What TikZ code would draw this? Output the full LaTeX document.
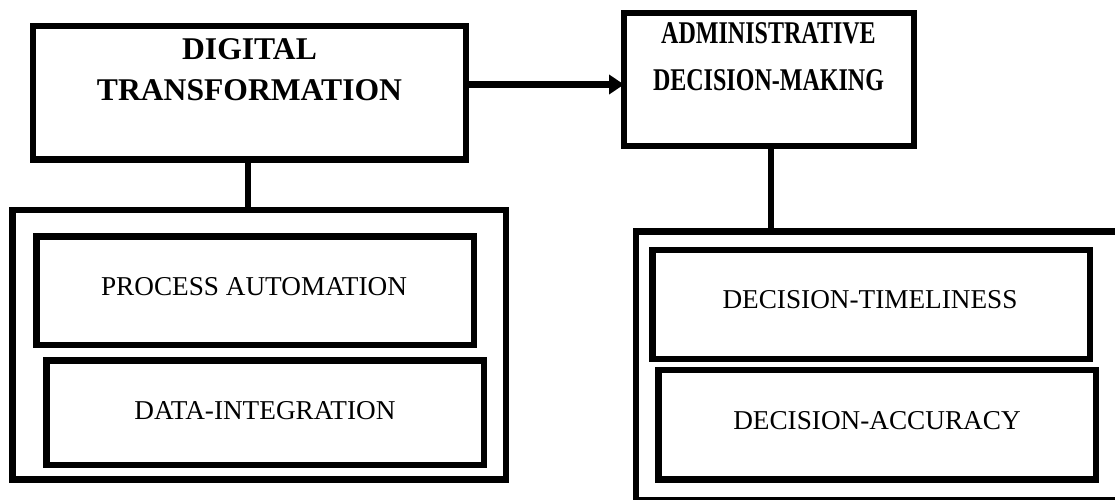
\documentclass[tikz,border=0pt]{standalone}
\usepackage{fontspec}
\setmainfont{Liberation Serif}
\usetikzlibrary{arrows.meta}
\tikzstyle{box}=[draw, rectangle, outer sep=0pt, inner sep=0pt]
\tikzstyle{headtext}=[align=center, inner sep=0pt, font=\bfseries]
\tikzstyle{itemtext}=[inner sep=0pt, font=\fontsize{15.5}{18}\selectfont]
\newcommand{\narrow}[1]{\scalebox{0.76}[1]{#1}}

\begin{document}
\begin{tikzpicture}[x=0.02cm, y=-0.02cm, line width=3.6pt]
            \useasboundingbox (0, 0) rectangle (1115, 500);
            \clip (0, 0) rectangle (1115, 500);

            % top row
            \node[box, minimum width=8.66cm, minimum height=2.67cm] (dt) at (249.5, 92.75) {};
            \node[headtext, font=\bfseries\fontsize{18}{23.2}\selectfont] (dtlabel) at (249.5, 69.5)
                {DIGITAL\\TRANSFORMATION};
            \node[box, minimum width=5.8cm, minimum height=2.66cm] (adm) at (769, 79.5) {};
            \node[headtext, font=\bfseries\fontsize{18}{26.6}\selectfont] (admlabel) at (768.5, 56.5)
                {\narrow{ADMINISTRATIVE}\\\narrow{DECISION-MAKING}};

            % left group
            \node[box, minimum width=9.87cm, minimum height=5.39cm] (dtgroup) at (259.25, 344.75) {};
            \node[box, minimum width=8.75cm, minimum height=2.17cm] (procauto) at (255.25, 290.75) {};
            \node[itemtext] (proclabel) at (254, 287) {PROCESS AUTOMATION};
            \node[box, minimum width=8.75cm, minimum height=2.09cm] (dataint) at (265.25, 412.75) {};
            \node[itemtext] (datalabel) at (265, 411) {DATA-INTEGRATION};

            % right group, runs past the page edge
            \node[box, anchor=north west, minimum width=9.88cm, minimum height=5.37cm] (admgroup) at (636, 231.5) {};
            \node[box, minimum width=8.75cm, minimum height=2.18cm] (timely) at (871.25, 304.5) {};
            \node[itemtext] (timelabel) at (870, 300) {DECISION-TIMELINESS};
            \node[box, minimum width=8.75cm, minimum height=2.19cm] (accuracy) at (877.25, 424.75) {};
            \node[itemtext] (acclabel) at (877, 421) {DECISION-ACCURACY};

            % connectors
            \coordinate (arrowrow) at (0, 84.5);
            \coordinate (dtstem) at (248, 0);
            \coordinate (admstem) at (771, 0);
            \draw[-{Triangle[length=0.3cm, width=0.38cm]}] (dt.east |- arrowrow) -- (adm.west |- arrowrow);
            \draw[line width=3pt] (dtstem |- dt.south) -- (dtstem |- dtgroup.north);
            \draw[line width=3pt] (admstem |- adm.south) -- (admstem |- admgroup.north);
        \end{tikzpicture}
\end{document}
